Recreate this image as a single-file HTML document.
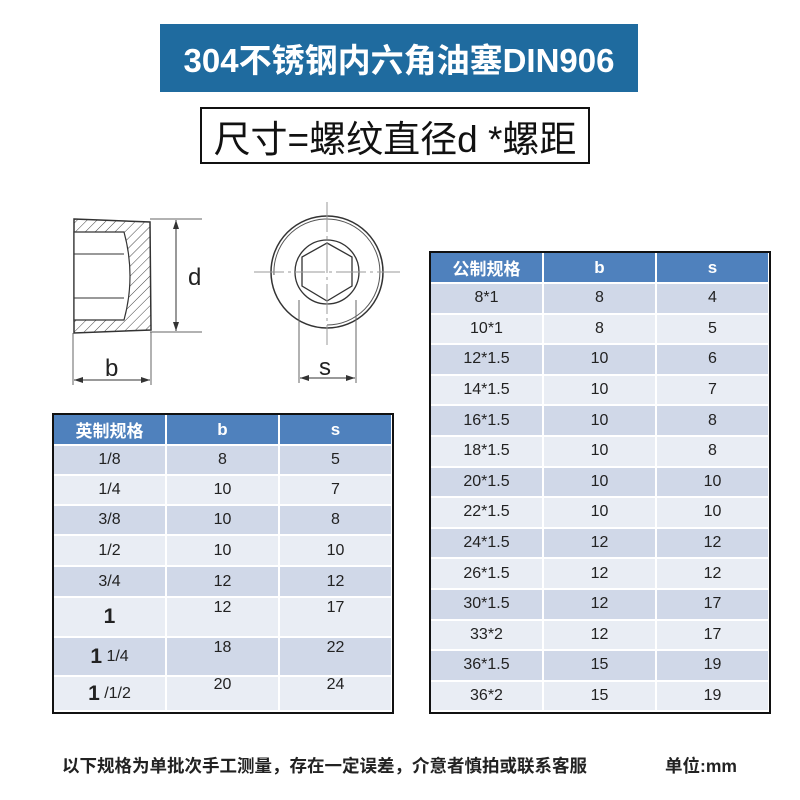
<!DOCTYPE html>
<html><head><meta charset="utf-8"><style>
*{margin:0;padding:0;box-sizing:border-box}
body{width:800px;height:800px;background:#fff;position:relative;overflow:hidden;font-family:"Liberation Sans","Noto Sans CJK SC",sans-serif}
.a{position:absolute}
.c{position:absolute;display:flex;align-items:center;justify-content:center;color:#222;font-size:16px}
.h{background:#4f81bd;color:#fff;font-weight:bold;font-size:17px}
.o{background:#d0d8e8}.e{background:#e9edf4}
.c br{line-height:10px}
</style></head><body>
<div class="a" style="left:160px;top:24px;width:478px;height:68px;background:#1f6b9f;color:#fff;font-weight:bold;font-size:33px;display:flex;align-items:center;justify-content:center">304不锈钢内六角油塞DIN906</div>
<div class="a" style="left:200px;top:107px;width:390px;height:57px;border:2.5px solid #111;font-size:37px;display:flex;align-items:center;justify-content:center;color:#111">尺寸=螺纹直径d *螺距</div>

<svg class="a" style="left:0;top:0" width="430" height="400">
<defs><pattern id="hp" width="7" height="7" patternUnits="userSpaceOnUse" patternTransform="rotate(45)"><line x1="0" y1="0" x2="0" y2="7" stroke="#444" stroke-width="1"/></pattern></defs>
<path d="M74 219 L150 222 L151 330 L74 333 Z" fill="url(#hp)" stroke="#333" stroke-width="1.5"/>
<path d="M74 232 L124 232 Q136 276 124 320 L74 320 Z" fill="#fff" stroke="#333" stroke-width="1.2"/>
<line x1="74" y1="254" x2="124" y2="254" stroke="#333"/><line x1="74" y1="298" x2="124" y2="298" stroke="#333"/>
<line x1="150" y1="219" x2="202" y2="219" stroke="#666"/><line x1="150" y1="332" x2="202" y2="332" stroke="#666"/>
<line x1="176" y1="220" x2="176" y2="331" stroke="#333"/>
<path d="M176 220 l-3 9 h6z M176 331 l-3 -9 h6z" fill="#333"/>
<text x="188" y="285" font-size="24" fill="#222" font-family="Liberation Sans">d</text>
<line x1="73" y1="333" x2="73" y2="385" stroke="#666"/><line x1="151" y1="332" x2="151" y2="385" stroke="#666"/>
<line x1="74" y1="380" x2="150" y2="380" stroke="#333"/>
<path d="M74 380 l9 -3 v6z M150 380 l-9 -3 v6z" fill="#333"/>
<text x="105" y="376" font-size="24" fill="#222" font-family="Liberation Sans">b</text>
<circle cx="327" cy="272" r="56" fill="none" stroke="#333" stroke-width="1.5"/>
<path d="M274 275 A53 53 0 1 1 327 325" fill="none" stroke="#555"/>
<circle cx="327" cy="272" r="32" fill="none" stroke="#333" stroke-width="1.3"/>
<polygon points="327,243 352,257 352,286 327,301 302,286 302,257" fill="none" stroke="#333" stroke-width="1.3"/>
<line x1="327" y1="202" x2="327" y2="345" stroke="#999" stroke-dasharray="30 4 3 4"/>
<line x1="254" y1="272" x2="400" y2="272" stroke="#999" stroke-dasharray="30 4 3 4"/>
<line x1="299" y1="300" x2="299" y2="383" stroke="#666"/><line x1="356" y1="300" x2="356" y2="383" stroke="#666"/>
<line x1="300" y1="378" x2="355" y2="378" stroke="#333"/>
<path d="M300 378 l9 -3 v6z M355 378 l-9 -3 v6z" fill="#333"/>
<text x="319" y="375" font-size="24" fill="#222" font-family="Liberation Sans">s</text>
</svg>

<div class="a" style="left:52px;top:413px;width:342px;height:301px;border:2px solid #111;background:#fff"></div>
<div class="a" style="left:429px;top:251px;width:342px;height:463px;border:2px solid #111;background:#fff"></div>

<div id="L"></div><div id="R"></div>
<div class="a" style="left:62px;top:753px;font-size:17.5px;font-weight:bold;color:#222;white-space:nowrap">以下规格为单批次手工测量，存在一定误差，介意者慎拍或联系客服</div>
<div class="a" style="left:665px;top:753px;font-size:17.5px;font-weight:bold;color:#222">单位:mm</div>
<script>
function tbl(x,cols,rows){
 let h='';
 rows.forEach((r,i)=>{
  const cls=i==0?'h':(i%2?'o':'e');
  for(let j=0;j<3;j++){
   h+=`<div class="c ${cls}" style="left:${cols[j]}px;top:${r[0]}px;width:${cols[j+1]-cols[j]-2}px;height:${r[1]-2}px">${r[2][j]}</div>`;
  }
 });
 return h;
}
const lc=[54,167,280,393];
const lr=[[415,31,['英制规格','b','s']],[446,30,['1/8','8','5']],[476,30,['1/4','10','7']],[506,30,['3/8','10','8']],[536,31,['1/2','10','10']],[567,31,['3/4','12','12']],
[598,40,['<b style="font-size:21px">1</b>','12<br><br>','17<br><br>']],[638,39,['<b style="font-size:21px">1</b>&nbsp;1/4','18<br><br>','22<br><br>']],[677,35,['<b style="font-size:21px">1</b>&nbsp;/1/2','20<br><br>','24<br><br>']]];
document.getElementById('L').innerHTML=tbl(0,lc,lr);
const rc=[431,544,657,770];
const data=[['公制规格','b','s'],['8*1','8','4'],['10*1','8','5'],['12*1.5','10','6'],['14*1.5','10','7'],['16*1.5','10','8'],['18*1.5','10','8'],['20*1.5','10','10'],['22*1.5','10','10'],['24*1.5','12','12'],['26*1.5','12','12'],['30*1.5','12','17'],['33*2','12','17'],['36*1.5','15','19'],['36*2','15','19']];
const rr=data.map((d,i)=>i==0?[253,31,d]:[284+(i-1)*30.6,30.6,d]);
document.getElementById('R').innerHTML=tbl(0,rc,rr);
</script>
</body></html>
